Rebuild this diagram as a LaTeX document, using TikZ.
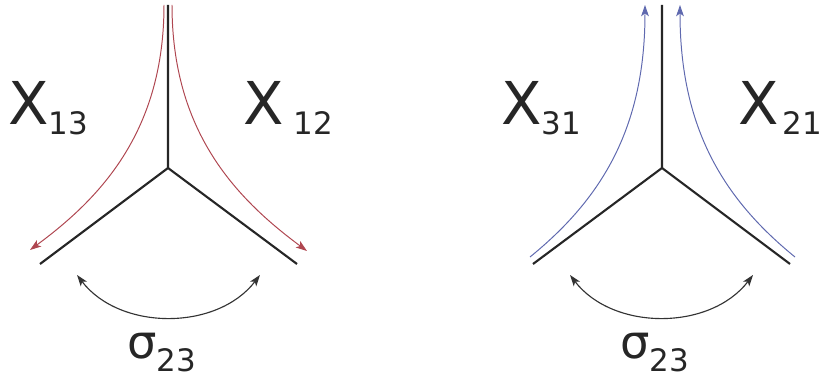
\documentclass[tikz,border=0pt]{standalone}
\usepackage{fontspec}
\setmainfont{DejaVu Sans}
\usetikzlibrary{arrows.meta}

\newcommand{\bigX}[2]{{\fontsize{42}{42}\selectfont X}\hspace{#2}\raisebox{-7pt}{\fontsize{22}{22}\selectfont #1}}
\newcommand{\sig}[1]{{\fontsize{33}{33}\selectfont σ}\raisebox{-9pt}{\fontsize{22}{22}\selectfont #1}}

\begin{document}
\begin{tikzpicture}[
  x=0.025cm, y=-0.025cm,
  leg/.style={draw=black!85, line width=1.5pt},
  flowR/.style={draw={rgb,255:red,175;green,70;blue,80}, line width=0.7pt, -{Stealth[length=8pt,width=5.5pt,inset=2pt]}},
  flowB/.style={draw={rgb,255:red,95;green,105;blue,175}, line width=0.7pt, -{Stealth[length=8pt,width=5.5pt,inset=2pt]}},
  swap/.style={draw=black!80, line width=0.8pt, {Stealth[length=8pt,width=5.5pt,inset=2pt]}-{Stealth[length=8pt,width=5.5pt,inset=2pt]}},
  lab/.style={inner sep=0pt, anchor=base west, text=black!85}
]
  \useasboundingbox (0,0) rectangle (824,379);

  % left vertex
  \coordinate (cL) at (168,168);
  \coordinate (tL) at (168,5);
  \coordinate (aL) at (40,264);
  \coordinate (bL) at (297,264);
  \draw[leg] (tL) -- (cL) -- (aL);
  \draw[leg] (cL) -- (bL);

  \coordinate (r1s) at (164,5);  \coordinate (r1e) at (30,250);
  \coordinate (r2s) at (172,5);  \coordinate (r2e) at (307,251);
  \draw[flowR] (r1s) .. controls (164,130) and (102,197) .. (r1e);
  \draw[flowR] (r2s) .. controls (172,130) and (234,197) .. (r2e);

  \node[lab] (x13) at (8,125) {\bigX{13}{0pt}};
  \node[lab] (x12) at (243,125) {\bigX{12}{7pt}};

  \coordinate (sL1) at (77,275); \coordinate (sL2) at (260,275);
  \draw[swap] (sL1) .. controls (120,331) and (217,331) .. (sL2);
  \node[lab] (sigL) at (127,359) {\sig{23}};

  % right vertex
  \coordinate (cR) at (662,168);
  \coordinate (tR) at (662,5);
  \coordinate (aR) at (533,264);
  \coordinate (bR) at (790,264);
  \draw[leg] (tR) -- (cR) -- (aR);
  \draw[leg] (cR) -- (bR);

  \coordinate (b1s) at (530,257); \coordinate (b1e) at (645,5);
  \coordinate (b2s) at (795,257); \coordinate (b2e) at (680,5);
  \draw[flowB] (b1s) .. controls (600,200) and (645,130) .. (b1e);
  \draw[flowB] (b2s) .. controls (725,200) and (680,130) .. (b2e);

  \node[lab] (x31) at (501,125) {\bigX{31}{0pt}};
  \node[lab] (x21) at (738,125) {\bigX{21}{3pt}};

  \coordinate (sR1) at (570,275); \coordinate (sR2) at (753,275);
  \draw[swap] (sR1) .. controls (613,331) and (710,331) .. (sR2);
  \node[lab] (sigR) at (620,359) {\sig{23}};
\end{tikzpicture}
\end{document}
